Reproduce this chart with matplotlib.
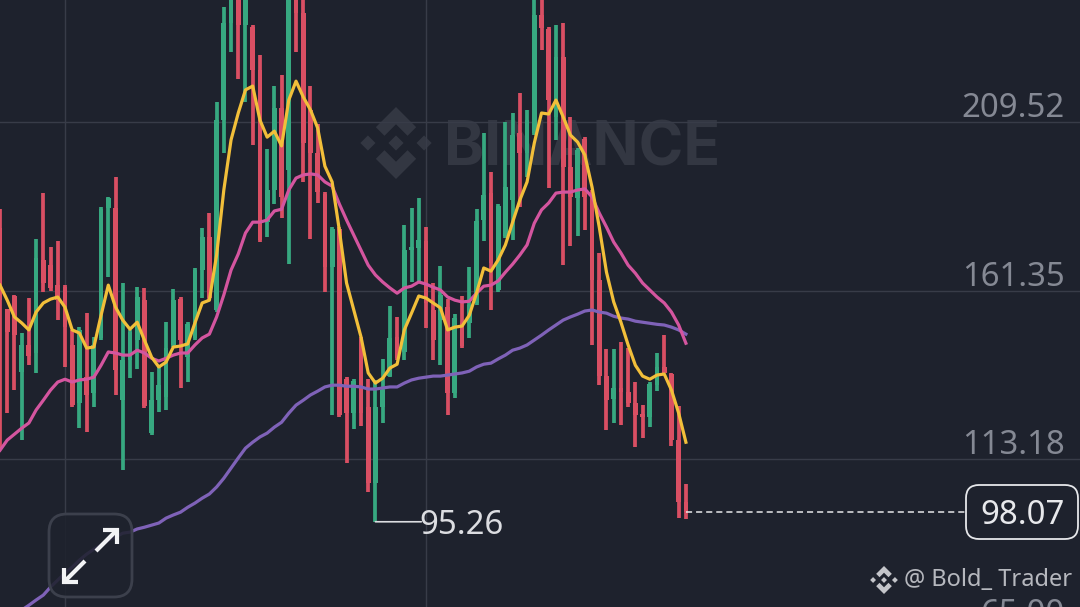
import matplotlib
matplotlib.use("Agg")
import matplotlib.pyplot as plt
from matplotlib.patches import FancyBboxPatch, Polygon

# ---- data -----------------------------------------------------------------
opens = [179.2,156.1,159.8,138.0,145.8,143.5,170.1,168.6,162.9,162.3,145.8,129.2,136.6,132.0,147.8,184.9,
         184.9,130.0,141.5,147.2,158.6,120.6,130.0,130.9,145.8,158.9,142.3,147.8,167.2,176.6,155.8,210.1,
         237.8,247.3,237.3,236.7,224.4,180.9,190.1,213.5,195.8,245.8,240.7,213.0,200.6,188.9,168.1,178.9,
         136.0,126.3,147.5,128.0,106.3,128.0,136.9,148.1,143.8,172.9,173.5,175.5,155.8,152.9,156.6,132.0,
         152.1,152.1,157.8,181.5,189.2,161.5,176.9,187.2,206.4,200.6,206.4,240.1,236.1,211.0,228.1,196.7,
         187.8,204.6,189.5,164.4,136.9,130.3,133.5,132.3,129.2,126.0,125.2,134.3,139.5,137.5,118.6,100.9]
highs = [184.6,156.1,160.1,149.2,159.2,176.1,189.2,173.8,175.5,162.9,150.1,150.9,154.9,148.1,185.2,188.1,
         193.8,163.5,150.1,162.3,162.0,138.0,139.5,152.3,161.8,159.5,152.3,167.8,179.2,183.5,215.2,242.4,
         255.8,253.0,250.1,237.3,228.7,201.8,219.8,223.0,250.1,247.3,245.8,219.8,208.9,189.5,179.5,179.5,
         136.6,136.0,148.1,136.0,135.8,141.8,156.9,153.8,180.1,184.9,187.8,179.5,163.5,168.4,158.9,154.6,
         159.8,168.1,184.6,206.4,195.2,186.1,209.5,212.1,217.8,213.0,250.1,245.8,236.7,237.3,237.8,211.0,
         202.1,205.2,190.1,172.1,144.6,144.6,146.6,144.9,135.2,128.6,135.2,143.5,148.6,137.8,128.3,106.0]
lows = [115.7,126.3,132.9,118.6,140.0,137.8,160.9,161.2,152.9,139.5,128.0,122.0,120.9,128.0,147.2,165.2,
        131.5,110.0,136.3,138.9,127.7,120.0,126.6,127.2,145.2,133.5,135.2,147.2,159.2,158.6,155.2,200.6,
        229.5,221.8,215.2,202.9,175.2,176.6,186.1,182.1,168.9,229.5,192.4,176.1,186.4,160.9,125.7,125.2,
        112.0,121.7,122.6,103.7,95.26,123.5,136.6,141.5,141.5,163.8,163.5,150.6,141.5,140.0,125.7,130.6,
        144.9,147.8,157.2,175.5,155.8,160.9,176.4,175.8,185.2,193.8,205.8,230.1,190.6,204.4,168.6,174.1,
        176.9,178.6,145.8,134.3,121.5,123.6,122.9,128.0,116.6,119.2,122.3,132.6,137.8,116.9,96.3,96.0]
closes = [158.6,149.5,148.6,145.8,142.6,170.6,163.5,162.1,158.6,150.9,128.6,150.1,131.5,145.8,184.6,187.8,
          138.6,141.5,149.5,159.5,128.3,130.0,134.3,144.9,158.6,147.2,151.8,167.2,176.6,159.2,210.1,237.8,
          247.3,237.3,245.8,224.4,175.8,190.1,213.5,188.1,247.3,240.7,203.5,200.6,189.5,168.1,178.9,125.7,
          126.3,135.5,126.3,106.3,128.0,132.9,147.8,142.0,172.9,173.8,175.8,157.8,147.2,160.1,132.0,153.5,
          145.5,157.2,181.2,188.6,169.2,185.5,190.9,205.8,200.6,210.1,240.1,236.4,215.8,228.1,196.7,188.1,
          201.5,188.1,164.4,136.9,130.0,133.5,132.3,129.2,125.7,125.2,134.6,139.5,137.8,118.6,100.9,98.07]

ma_fast = [162.9,158.6,153.8,152.1,150.1,155.2,157.8,158.9,159.5,156.6,150.1,149.2,144.9,145.2,154.3,162.9,
           156.6,152.9,150.3,152.3,147.2,142.3,139.5,140.9,145.2,145.5,146.1,152.1,157.8,158.6,171.5,190.1,
           204.4,212.1,218.7,219.8,210.1,205.2,206.9,202.7,215.8,221.2,216.7,213.0,207.8,196.9,192.4,178.6,
           163.5,155.8,148.1,137.8,134.9,136.3,139.2,140.3,150.1,154.9,159.8,159.2,157.8,156.4,150.1,150.9,
           151.2,154.3,160.6,167.8,166.9,170.1,174.4,180.9,187.2,192.4,203.5,212.1,211.8,215.8,211.0,205.8,
           203.8,200.1,190.9,179.5,166.6,158.1,152.3,145.8,140.0,136.9,136.0,137.2,137.5,132.9,126.3,118.0]
ma_mid = [115.7,118.6,120.3,122.0,123.5,127.2,130.0,132.9,135.2,136.0,135.2,135.8,136.0,136.6,140.0,143.8,
          143.5,142.9,142.9,144.3,143.5,142.0,141.2,142.0,142.9,143.5,143.5,145.8,147.8,148.9,153.8,160.1,
          167.2,171.8,177.8,180.9,180.9,181.5,184.1,184.6,190.1,193.5,194.4,194.7,194.4,192.4,191.2,186.1,
          181.5,177.2,172.9,168.6,165.8,163.8,162.1,160.6,162.1,162.6,163.8,163.2,162.3,161.5,159.5,158.6,
          158.1,158.3,160.6,162.6,162.9,164.1,166.6,168.9,171.5,174.4,180.6,184.4,186.4,189.2,189.5,189.5,
          190.1,190.4,188.1,183.5,179.5,175.2,172.1,168.6,166.3,163.5,161.5,159.5,157.8,155.2,151.5,146.3]
ma_slow = [65.7,67.1,68.6,70.0,71.4,72.9,74.3,76.6,78.6,80.6,82.3,84.3,86.0,87.4,88.6,90.0,
           90.9,92.0,92.3,93.2,93.7,94.3,94.9,96.3,97.2,98.0,99.4,100.6,102.0,103.2,105.2,107.7,
           110.6,113.5,116.3,118.0,119.5,120.6,122.3,123.7,126.3,128.6,130.0,131.5,132.6,133.8,134.3,134.3,
           134.0,134.0,133.8,133.2,133.2,133.5,133.8,133.8,134.9,135.8,136.3,136.6,136.9,136.9,137.2,137.5,
           137.8,138.3,139.5,140.3,140.6,141.8,142.9,144.3,144.9,145.8,147.2,148.6,150.1,151.5,152.9,153.8,
           154.6,155.5,155.8,155.2,154.9,154.0,153.5,153.2,152.6,152.3,152.0,151.7,151.5,150.9,150.1,148.9]

price_ticks = [209.52, 161.35, 113.18, 65.00]
price_labels = ["209.52", "161.35", "113.18", "65.00"]
time_grid = [9, 59]
low_label = "95.26"
last_price = 98.07
last_label = "98.07"

# ---- style ----------------------------------------------------------------
BG = "#1e222d"
GRID = "#383c48"
GREEN = "#37a880"
RED = "#d94f63"
YELLOW = "#f2bf3a"
MAGENTA = "#d4559f"
PURPLE = "#7f62b8"
FONT = "Noto Sans"
W, H = 1080, 607
STEP_PX = 7.22
Y_TOP, Y_BOTTOM = 244.4, 70.9

fig = plt.figure(figsize=(W / 100, H / 100), dpi=100, facecolor=BG)


def full_axes(z, pixel=True):
    a = fig.add_axes([0, 0, 1, 1], zorder=z)
    a.patch.set_alpha(0)
    if pixel:
        a.set_xlim(0, W)
        a.set_ylim(H, 0)
        a.axis("off")
    return a


def logo(a, cx, cy, r, color, z=1):
    """Binance diamond mark, drawn in pixel space."""
    def part(points):
        a.add_patch(Polygon([(cx + px * r, cy + py * r) for px, py in points],
                            closed=True, fc=color, ec="none", zorder=z))
    d = 0.21
    part([(0, -d), (d, 0), (0, d), (-d, 0)])
    for sx in (-0.78, 0.78):
        part([(sx, -d), (sx + d, 0), (sx, d), (sx - d, 0)])
    for s in (1, -1):
        part([(0, -1 * s), (0.56, -0.44 * s), (0.32, -0.20 * s), (0, -0.52 * s),
              (-0.32, -0.20 * s), (-0.56, -0.44 * s)])


# watermark (behind the data)
wm = full_axes(0.5)
logo(wm, 396, 143, 36, "#333742")
wm.text(582.5, 143, "BINANCE", color="#333742", fontsize=43.6, fontweight="bold",
        family="Inter", ha="center", va="center_baseline")

# price pane
ax = full_axes(1, pixel=False)
ax.set_xlim(0, W / STEP_PX)
ax.set_ylim(Y_BOTTOM, Y_TOP)
ax.set_yticks(price_ticks[:3])
ax.set_xticks(time_grid)
ax.tick_params(length=0, labelleft=False, labelbottom=False)
ax.grid(True, color=GRID, lw=1.0)
ax.set_axisbelow(True)
for s in ax.spines.values():
    s.set_visible(False)

idx = list(range(len(opens)))
colors = [GREEN if c >= o else RED for o, c in zip(opens, closes)]
ax.vlines(idx, lows, highs, colors=colors, lw=2.7, zorder=2)
ax.bar(idx, [abs(c - o) for o, c in zip(opens, closes)],
       bottom=[min(o, c) for o, c in zip(opens, closes)],
       width=0.66, color=colors, lw=0, zorder=2.1)

ax.plot(idx, ma_slow, color=PURPLE, lw=2.3, zorder=3, solid_joinstyle="round")
ax.plot(idx, ma_mid, color=MAGENTA, lw=2.3, zorder=3.1, solid_joinstyle="round")
ax.plot(idx, ma_fast, color=YELLOW, lw=2.3, zorder=3.2, solid_joinstyle="round")

for p, lab in zip(price_ticks, price_labels):
    ax.annotate(lab, xy=(1065 / W, p), xycoords=ax.get_yaxis_transform(),
                xytext=(0, 9.6), textcoords="offset points", ha="right", va="center",
                color="#858994", fontsize=23.7, family=FONT, annotation_clip=False)

# lowest-price marker
low_i = lows.index(min(lows))
ax.annotate("", xy=(low_i, lows[low_i]), xytext=(33, 0), textcoords="offset points",
            arrowprops=dict(arrowstyle="-", color="#dcdde1", lw=1.2, shrinkA=0, shrinkB=0),
            zorder=5)
ax.annotate(low_label, xy=(low_i, lows[low_i]), xytext=(31.6, -2.6), textcoords="offset points",
            ha="left", va="center", color="#dcdde1", fontsize=23.7, family=FONT, zorder=5)

# last-price marker
ax.plot([idx[-1], 965 / STEP_PX], [last_price, last_price], color="#e8e8ea", lw=1.1,
        dashes=(4, 2.6), zorder=4)

# overlay widgets
ui = full_axes(2)
ui.add_patch(FancyBboxPatch((966, 485), 112, 54, boxstyle="round,pad=0,rounding_size=13",
                            fc=BG, ec="#e6e7ea", lw=1.3))
ui.text(1022.5, 515, last_label, color="#e8e9ec", fontsize=23.7, family=FONT,
        ha="center", va="center")

ui.add_patch(FancyBboxPatch((49, 514), 83, 83, boxstyle="round,pad=0,rounding_size=18",
                            fc=BG, alpha=0.88, ec="none"))
ui.add_patch(FancyBboxPatch((49, 514), 83, 83, boxstyle="round,pad=0,rounding_size=18",
                            fc="none", ec="#3c404c", lw=2.0))
for seg in ([(96, 551), (116, 531)], [(64, 582), (85, 561)],
            [(103, 530), (117, 530), (117, 544)], [(64, 568), (64, 582), (78, 582)]):
    ui.plot(*zip(*seg), color="#f2f3f5", lw=3.0, solid_capstyle="butt", solid_joinstyle="miter")

logo(ui, 884, 580, 14, "#c4c5ca")
ui.text(904, 580, "@ Bold_ Trader", color="#b6b8be", fontsize=17.0, family=FONT,
        ha="left", va="center")

fig.savefig("out.png", dpi=100, facecolor=BG)
